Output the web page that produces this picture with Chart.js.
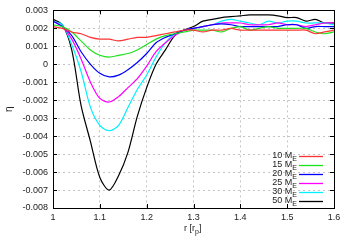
<!DOCTYPE html>
<html>
<head>
<meta charset="utf-8">
<script src="https://cdn.jsdelivr.net/npm/chart.js@4/dist/chart.umd.min.js"></script>
<style>
  html, body { margin: 0; padding: 0; background: #fff; }
  #wrap { width: 350px; height: 245px; }
</style>
</head>
<body>
<div id="wrap"><canvas id="eta"></canvas></div>
<script>
// radius in planet radii
const r = [1.00, 1.02, 1.04, 1.06, 1.08, 1.10, 1.12, 1.14, 1.16, 1.18, 1.20,
  1.22, 1.24, 1.26, 1.28, 1.30, 1.32, 1.34, 1.36, 1.38, 1.40,
  1.42, 1.44, 1.46, 1.48, 1.50, 1.52, 1.54, 1.56, 1.58, 1.60];

// eta for each planet mass
const m10 = [0.0021, 0.0020, 0.0018, 0.0017, 0.0015, 0.0014, 0.0014, 0.0013, 0.0014, 0.0015, 0.0015,
  0.0016, 0.0017, 0.0018, 0.0019, 0.0019, 0.0018, 0.0019, 0.0019, 0.0020, 0.0019,
  0.0019, 0.0019, 0.0019, 0.0019, 0.0019, 0.0019, 0.0019, 0.0017, 0.0018, 0.0019];
const m15 = [0.0022, 0.0021, 0.0018, 0.0013, 0.0008, 0.0005, 0.0004, 0.0005, 0.0006, 0.0008, 0.0011,
  0.0014, 0.0016, 0.0017, 0.0018, 0.0019, 0.0019, 0.0019, 0.0018, 0.0020, 0.0021,
  0.0019, 0.0020, 0.0021, 0.0020, 0.0020, 0.0020, 0.0020, 0.0018, 0.0017, 0.0018];
const m20 = [0.0024, 0.0021, 0.0016, 0.0007, 0.0000, -0.0005, -0.0007, -0.0006, -0.0003, 0.0001, 0.0006,
  0.0012, 0.0015, 0.0017, 0.0019, 0.0020, 0.0021, 0.0022, 0.00225, 0.0022, 0.0021,
  0.0021, 0.0021, 0.0021, 0.0021, 0.0022, 0.0022, 0.0020, 0.0021, 0.0021, 0.0021];
const m25 = [0.0024, 0.0021, 0.0014, 0.0003, -0.0010, -0.0019, -0.0021, -0.0018, -0.0013, -0.0008, -0.0001,
  0.0007, 0.0012, 0.0016, 0.0019, 0.0020, 0.0021, 0.0022, 0.0023, 0.0023, 0.0023,
  0.0022, 0.0022, 0.0022, 0.0023, 0.0022, 0.0022, 0.0021, 0.0022, 0.0023, 0.0023];
const m30 = [0.0024, 0.0022, 0.0011, -0.0004, -0.0024, -0.0034, -0.0037, -0.0034, -0.0024, -0.0014, -0.0006,
  0.0004, 0.0012, 0.0017, 0.0019, 0.0020, 0.0021, 0.0022, 0.0024, 0.0025, 0.0024,
  0.0023, 0.0022, 0.0024, 0.0023, 0.0024, 0.0024, 0.0023, 0.0023, 0.0023, 0.0022];
const m50 = [0.0025, 0.0022, 0.0008, -0.0023, -0.0043, -0.0063, -0.0070, -0.0062, -0.0049, -0.0029, -0.0013,
  0.0000, 0.0008, 0.0016, 0.0019, 0.0021, 0.0024, 0.0025, 0.0026, 0.00265, 0.0027,
  0.00275, 0.00275, 0.00275, 0.0027, 0.0026, 0.0026, 0.0024, 0.0025, 0.0023, 0.0023];

const masses = ['10', '15', '20', '25', '30', '50'];
const series = [m10, m15, m20, m25, m30, m50];
const colors = ['rgb(255,50,50)', 'rgb(30,225,30)', 'rgb(0,0,255)', 'rgb(255,0,255)', 'rgb(0,240,255)', 'rgb(0,0,0)'];

const FONT = '"Liberation Sans", Arial, sans-serif';

// text with a subscript part, returns x where it ends
function subText(ctx, main, sub, x, y, size, align) {
  ctx.font = size + 'px ' + FONT;
  const w1 = ctx.measureText(main).width;
  ctx.font = (size - 2) + 'px ' + FONT;
  const w2 = ctx.measureText(sub).width;
  let x0 = x;
  if (align === 'right') x0 = x - w1 - w2;
  if (align === 'center') x0 = x - (w1 + w2) / 2;
  ctx.textAlign = 'left';
  ctx.textBaseline = 'middle';
  ctx.font = size + 'px ' + FONT;
  ctx.fillText(main, x0, y);
  ctx.font = (size - 2) + 'px ' + FONT;
  ctx.fillText(sub, x0 + w1, y + 3);
  return x0 + w1 + w2;
}

const frame = {
  id: 'frame',
  afterDraw(chart) {
    const ctx = chart.ctx;
    const a = chart.chartArea;
    const xs = chart.scales.x, ys = chart.scales.y;
    ctx.save();
    ctx.strokeStyle = '#000';
    ctx.lineWidth = 1;
    ctx.strokeRect(Math.round(a.left) + 0.5, Math.round(a.top) + 0.5,
      Math.round(a.right - a.left), Math.round(a.bottom - a.top));
    ctx.beginPath();
    ys.ticks.forEach(t => {
      const py = Math.round(ys.getPixelForValue(t.value)) + 0.5;
      ctx.moveTo(a.left, py); ctx.lineTo(a.left + 4, py);
      ctx.moveTo(a.right, py); ctx.lineTo(a.right - 4, py);
    });
    xs.ticks.forEach(t => {
      const px = Math.round(xs.getPixelForValue(t.value)) + 0.5;
      ctx.moveTo(px, a.bottom); ctx.lineTo(px, a.bottom - 4);
      ctx.moveTo(px, a.top); ctx.lineTo(px, a.top + 4);
    });
    ctx.stroke();

    // legend, text on the left of the sample line
    ctx.fillStyle = '#222';
    chart.data.datasets.forEach((ds, i) => {
      const y = a.bottom - 52 + i * 9;
      subText(ctx, masses[i] + ' M', 'E', a.right - 37, y, 9, 'right');
      ctx.strokeStyle = ds.borderColor;
      ctx.lineWidth = 1.3;
      ctx.beginPath();
      ctx.moveTo(a.right - 35, y + 0.5);
      ctx.lineTo(a.right - 11, y + 0.5);
      ctx.stroke();
    });

    // axis titles
    ctx.fillStyle = '#222';
    const end = subText(ctx, 'r [r', 'p', (a.left + a.right) / 2 - 2, 229, 9, 'center');
    ctx.font = '9px ' + FONT;
    ctx.fillText(']', end, 229);
    ctx.translate(9, (a.top + a.bottom) / 2);
    ctx.rotate(-Math.PI / 2);
    ctx.textAlign = 'center';
    ctx.textBaseline = 'middle';
    ctx.font = '10px ' + FONT;
    ctx.fillText('η', 0, 0);
    ctx.restore();
  }
};

const ctx = document.getElementById('eta');
new Chart(ctx, {
  type: 'line',
  data: {
    datasets: series.map((s, i) => ({
      label: masses[i] + ' ME',
      data: r.map((v, j) => ({ x: v, y: s[j] })),
      borderColor: colors[i],
      borderWidth: 1.2,
      pointRadius: 0,
      tension: 0.3,
      fill: false
    }))
  },
  options: {
    responsive: true,
    maintainAspectRatio: false,
    animation: false,
    layout: { padding: { left: 0, top: 10, right: 16, bottom: 0 } },
    plugins: { legend: { display: false }, tooltip: { enabled: false } },
    scales: {
      x: {
        type: 'linear',
        min: 1, max: 1.6,
        afterFit: (s) => { s.height = 37; },
        border: { display: false, dash: [2, 3] },
        grid: { color: '#c4c4c4', drawTicks: false },
        ticks: {
          stepSize: 0.1, padding: 4, color: '#222',
          font: { family: FONT, size: 9 },
          callback: (v) => String(Number(v.toFixed(1)))
        }
      },
      y: {
        min: -0.008, max: 0.003,
        afterFit: (s) => { s.width = 53; },
        border: { display: false, dash: [2, 3] },
        grid: { color: '#c4c4c4', drawTicks: false },
        ticks: {
          stepSize: 0.001, padding: 5, color: '#222',
          font: { family: FONT, size: 9 },
          callback: (v) => String(Number(v.toFixed(3)))
        }
      }
    }
  },
  plugins: [frame]
});
</script>
</body>
</html>
